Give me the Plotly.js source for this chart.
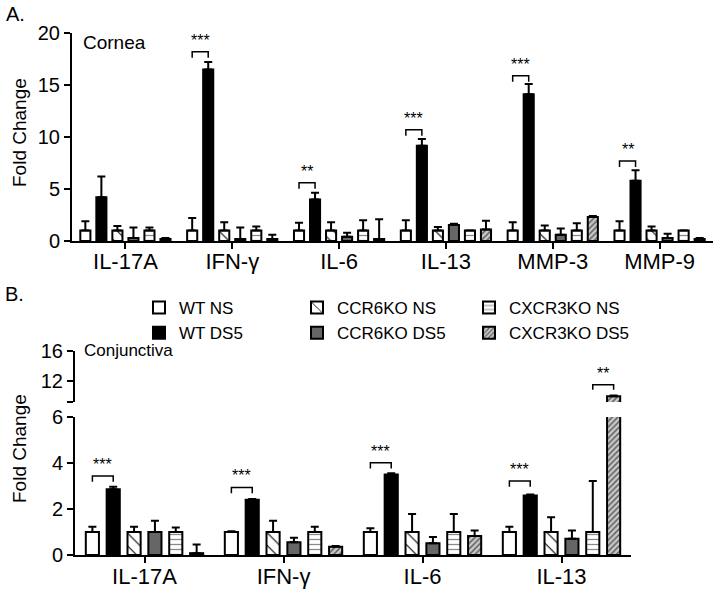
<!DOCTYPE html>
<html>
<head>
<meta charset="utf-8">
<script src="https://cdn.plot.ly/plotly-3.0.1.min.js"></script>
<style>
  html, body { margin: 0; padding: 0; background: #fff; }
  #chart { width: 718px; height: 596px; }
</style>
</head>
<body>
<div id="chart"></div>
<script>
// ---- data ----
const groups = ['WT NS', 'WT DS5', 'CCR6KO NS', 'CCR6KO DS5', 'CXCR3KO NS', 'CXCR3KO DS5'];

// A. Cornea
const corneaCats = ['IL-17A', 'IFN-γ', 'IL-6', 'IL-13', 'MMP-3', 'MMP-9'];
const corneaMeans = [
    [1, 1, 1, 1, 1, 1],                 // WT NS
    [4.2, 16.5, 4.0, 9.15, 14.1, 5.8],  // WT DS5
    [1, 1, 1, 1, 1, 1],                 // CCR6KO NS
    [0.3, 0.2, 0.4, 1.55, 0.6, 0.3],    // CCR6KO DS5
    [1, 1, 1, 1, 1, 1],                 // CXCR3KO NS
    [0.2, 0.2, 0.2, 1.1, 2.3, 0.2]      // CXCR3KO DS5
];
const corneaErr = [
    [0.9, 1.2, 0.75, 1.0, 0.8, 0.9],
    [2.0, 0.7, 0.65, 0.65, 1.0, 1.0],
    [0.45, 0.8, 0.8, 0.35, 0.5, 0.4],
    [1.0, 1.1, 0.4, 0.1, 0.6, 0.4],
    [0.3, 0.4, 1.0, 0, 0.7, 0],
    [0.1, 0.4, 1.9, 0.85, 0.1, 0.1]
];
const corneaSigCats = ['IFN-γ', 'IL-6', 'IL-13', 'MMP-3', 'MMP-9'];
const corneaSigY = [18.2, 5.6, 10.7, 15.9, 7.7];
const corneaSigText = ['***', '**', '***', '***', '**'];

// B. Conjunctiva
const conjCats = ['IL-17A', 'IFN-γ', 'IL-6', 'IL-13'];
const conjMeans = [
    [1, 1, 1, 1],
    [2.86, 2.4, 3.5, 2.59],
    [1, 1, 1, 1],
    [1.0, 0.55, 0.51, 0.71],
    [1, 1, 1, 1],
    [0.08, 0.36, 0.83, 9.95]
];
const conjErr = [
    [0.23, 0.03, 0.16, 0.23],
    [0.11, 0.03, 0.05, 0.04],
    [0.23, 0.49, 0.78, 0.64],
    [0.49, 0.2, 0.27, 0.35],
    [0.2, 0.23, 0.78, 2.22],
    [0.38, 0.03, 0.23, 0.1]
];
const conjSigCats = ['IL-17A', 'IFN-γ', 'IL-6', 'IL-13'];
const conjSigY = [3.43, 2.94, 4.01, 3.22];
const conjSigText = ['***', '***', '***', '***'];
// the one comparison drawn above the axis break
const conjUpperSigCats = ['IL-13'];
const conjUpperSigY = [11.5];
const conjUpperSigText = ['**'];

// ---- styling ----
const FONT = 'Liberation Sans, Arial, Helvetica, sans-serif';
const BARGAP = 0.1;
const styles = [
    { color: '#ffffff', pattern: null },
    { color: '#000000', pattern: null },
    { color: '#ffffff', pattern: { shape: '\\', fgcolor: '#000', bgcolor: '#fff', size: 9, solidity: 0.12, fillmode: 'replace' } },
    { color: '#666666', pattern: null },
    { color: '#ffffff', pattern: { shape: '-', fgcolor: '#8a8a8a', bgcolor: '#fff', size: 5, solidity: 0.25, fillmode: 'replace' } },
    { color: '#bdbdbd', pattern: { shape: '/', fgcolor: '#555', bgcolor: '#c8c8c8', size: 4, solidity: 0.35, fillmode: 'replace' } }
];
const legendIds = ['legend', 'legend', 'legend2', 'legend2', 'legend3', 'legend3'];

function barTraces(cats, means, errs, xa, ya, withLegend) {
    return groups.map((g, i) => {
        const marker = { color: styles[i].color, line: { color: '#000', width: 2 } };
        if (styles[i].pattern) marker.pattern = styles[i].pattern;
        return {
            type: 'bar', name: g, x: cats, y: means[i],
            xaxis: xa, yaxis: ya,
            marker: marker,
            error_y: {
                type: 'data', symmetric: false,
                array: errs[i], arrayminus: errs[i].map(() => 0),
                color: '#000', thickness: 2, width: 4
            },
            showlegend: withLegend,
            legend: legendIds[i],
            hoverinfo: 'x+y+name'
        };
    });
}

// centre of the i-th bar inside a group (category units)
function slotX(catIdx, i) {
    return catIdx + (-0.5 + (i + 0.5) / groups.length) * (1 - BARGAP);
}

const shapes = [];
const annotations = [];

function addBrackets(allCats, sigCats, sigY, sigText, xref, yref, leg, from, to) {
    sigCats.forEach((c, k) => {
        const ci = allCats.indexOf(c);
        const x0 = slotX(ci, from), x1 = slotX(ci, to);
        const y = sigY[k];
        shapes.push({
            type: 'path', xref: xref, yref: yref,
            path: `M${x0},${y - leg} L${x0},${y} L${x1},${y} L${x1},${y - leg}`,
            line: { color: '#000', width: 1.5 }
        });
        annotations.push({
            xref: xref, yref: yref, x: (x0 + x1) / 2, y: y,
            text: sigText[k], showarrow: false, yanchor: 'bottom', yshift: 1,
            font: { family: FONT, size: 16, color: '#000' }
        });
    });
}

addBrackets(corneaCats, corneaSigCats, corneaSigY, corneaSigText, 'x', 'y', 0.58, 0, 1);
addBrackets(conjCats, conjSigCats, conjSigY, conjSigText, 'x2', 'y2', 0.25, 0, 1);
addBrackets(conjCats, conjUpperSigCats, conjUpperSigY, conjUpperSigText, 'x2', 'y3', 0.67, 4, 5);

// panel labels and titles
const textNotes = [
    { text: 'A.', x: 4, y: 14, size: 20 },
    { text: 'B.', x: 3, y: 294, size: 20 },
    { text: 'Cornea', x: 81, y: 43, size: 19 },
    { text: 'Conjunctiva', x: 82, y: 350, size: 17 }
];
textNotes.forEach(n => annotations.push({
    xref: 'paper', yref: 'paper', x: n.x / 718, y: 1 - n.y / 596,
    xanchor: 'left', yanchor: 'middle', showarrow: false, text: n.text,
    font: { family: FONT, size: n.size, color: '#000' }
}));
[[133], [449]].forEach(([yc]) => annotations.push({
    xref: 'paper', yref: 'paper', x: 19 / 718, y: 1 - yc / 596,
    xanchor: 'center', yanchor: 'middle', showarrow: false, textangle: -90,
    text: 'Fold Change', font: { family: FONT, size: 19, color: '#000' }
}));

const data = [
    ...barTraces(corneaCats, corneaMeans, corneaErr, 'x', 'y', false),
    ...barTraces(conjCats, conjMeans, conjErr, 'x2', 'y2', true),
    ...barTraces(conjCats, conjMeans, conjErr, 'x2', 'y3', false)
];

const axisBase = {
    showline: true, linecolor: '#000', linewidth: 2,
    ticks: 'outside', ticklen: 6, tickwidth: 2, tickcolor: '#000',
    showgrid: false, zeroline: false, fixedrange: true,
    tickfont: { family: FONT, size: 20, color: '#000' }
};
const catFont = { family: FONT, size: 22, color: '#000' };
const px = v => v / 718, py = v => 1 - v / 596;

const legendBase = {
    orientation: 'v', xanchor: 'left', yanchor: 'top', y: py(290),
    bgcolor: 'rgba(0,0,0,0)', tracegroupgap: 0,
    font: { family: FONT, size: 17, color: '#000' }
};

const layout = {
    width: 718, height: 596,
    margin: { l: 0, r: 0, t: 0, b: 0 },
    paper_bgcolor: '#fff', plot_bgcolor: 'rgba(0,0,0,0)',
    font: { family: FONT, color: '#000' },
    barmode: 'group', bargap: BARGAP, bargroupgap: 0.37,
    xaxis: { ...axisBase, type: 'category', domain: [px(72), px(713)], anchor: 'y',
             range: [-0.5, 5.5], tickfont: catFont, ticklabelstandoff: -6 },
    yaxis: { ...axisBase, domain: [py(241), py(33)], anchor: 'x', range: [0, 20], dtick: 5 },
    xaxis2: { ...axisBase, type: 'category', domain: [px(75), px(631)], anchor: 'y2',
              range: [-0.5, 3.5], tickfont: catFont, ticklabelstandoff: -5 },
    yaxis2: { ...axisBase, domain: [py(555), py(417)], anchor: 'x2', range: [0, 6], dtick: 2 },
    yaxis3: { ...axisBase, domain: [py(402), py(351)], anchor: 'x2', range: [9.2, 16],
              tickmode: 'array', tickvals: [9.2, 12, 16], ticktext: ['', '12', '16'] },
    legend: { ...legendBase, x: px(139) },
    legend2: { ...legendBase, x: px(297) },
    legend3: { ...legendBase, x: px(469) },
    shapes: shapes,
    annotations: annotations,
    showlegend: true
};

Plotly.newPlot('chart', data, layout, { displayModeBar: false, staticPlot: true });
</script>
</body>
</html>
